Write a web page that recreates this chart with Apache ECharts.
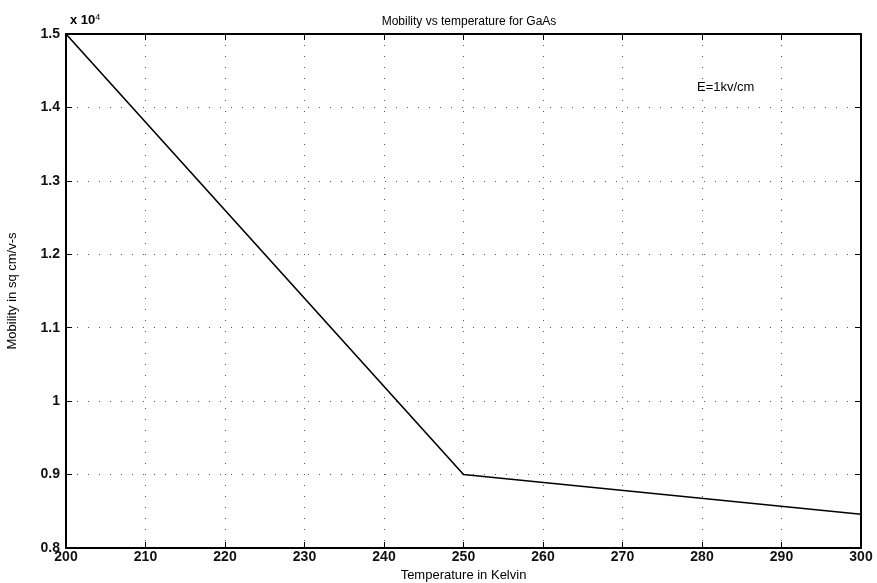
<!DOCTYPE html>
<html>
<head>
<meta charset="utf-8">
<script src="https://cdn.jsdelivr.net/npm/echarts@6/dist/echarts.min.js"></script>
<style>html,body{margin:0;padding:0;background:#fff}#c{width:877px;height:583px}</style>
</head>
<body>
<div id="c"></div>
<script>
const temperatures = [200, 250, 300];
const mobility = [1.5, 0.9, 0.846]; // x 10^4 sq cm/v-s
const xTicks = [200, 210, 220, 230, 240, 250, 260, 270, 280, 290, 300];
const yTicks = [0.8, 0.9, 1.0, 1.1, 1.2, 1.3, 1.4, 1.5];

const chart = echarts.init(document.getElementById('c'));
const font = 'Liberation Sans, Arial, sans-serif';
const gridStyle = { show: true, lineStyle: { color: '#555', width: 1, type: [1, 10] } };
chart.setOption({
  animation: false,
  backgroundColor: '#fff',
  title: {
    text: 'Mobility vs temperature for GaAs',
    left: 464, top: 11, textAlign: 'center',
    textStyle: { fontFamily: font, fontSize: 12, fontWeight: 'normal', color: '#000' }
  },
  grid: { left: 66, top: 34, right: 16, bottom: 35, outerBoundsMode: 'none', containLabel: false },
  xAxis: [{
    type: 'value', min: 200, max: 300, interval: 10,
    name: 'Temperature in Kelvin', nameLocation: 'middle', nameGap: 19,
    nameTextStyle: { fontFamily: font, fontSize: 13, color: '#000' },
    axisLine: { show: true, onZero: false, lineStyle: { color: '#000', width: 2 } },
    axisTick: { show: true, inside: true, length: 6, lineStyle: { color: '#000' } },
    axisLabel: { fontFamily: font, fontSize: 14, fontWeight: 'bold', color: '#111', margin: 2 },
    splitLine: gridStyle
  }, {
    type: 'value', min: 200, max: 300, interval: 10, position: 'top',
    axisLine: { show: true, onZero: false, lineStyle: { color: '#000', width: 2 } },
    axisTick: { show: true, inside: true, length: 6, lineStyle: { color: '#000' } },
    axisLabel: { show: false }, splitLine: { show: false }
  }],
  yAxis: [{
    type: 'value', min: 0.8, max: 1.5, interval: 0.1,
    name: 'Mobility in sq cm/v-s', nameLocation: 'middle', nameGap: 47, nameRotate: 90,
    nameTextStyle: { fontFamily: font, fontSize: 13, color: '#000' },
    axisLine: { show: true, onZero: false, lineStyle: { color: '#000', width: 2 } },
    axisTick: { show: true, inside: true, length: 6, lineStyle: { color: '#000' } },
    axisLabel: { fontFamily: font, fontSize: 14, fontWeight: 'bold', color: '#111', margin: 6,
      formatter: v => String(Math.round(v * 10) / 10) },
    splitLine: gridStyle
  }, {
    type: 'value', min: 0.8, max: 1.5, interval: 0.1, position: 'right',
    axisLine: { show: true, onZero: false, lineStyle: { color: '#000', width: 2 } },
    axisTick: { show: true, inside: true, length: 6, lineStyle: { color: '#000' } },
    axisLabel: { show: false }, splitLine: { show: false }
  }],
  series: [{
    type: 'line',
    data: temperatures.map((t, i) => [t, mobility[i]]),
    showSymbol: false,
    lineStyle: { color: '#000', width: 1.6 }
  }],
  graphic: [{
    type: 'text', left: 70, top: 13,
    style: {
      text: '{a|x 10}{b|4}',
      rich: {
        a: { fontFamily: font, fontSize: 13, fill: '#000', fontWeight: 'bold' },
        b: { fontFamily: font, fontSize: 9, fill: '#000', verticalAlign: 'top', padding: [0, 0, 6, 0] }
      }
    }
  }, {
    type: 'text', left: 697, top: 81,
    style: { text: 'E=1kv/cm', fontFamily: font, fontSize: 13, fill: '#000' }
  }]
});
</script>
</body>
</html>
